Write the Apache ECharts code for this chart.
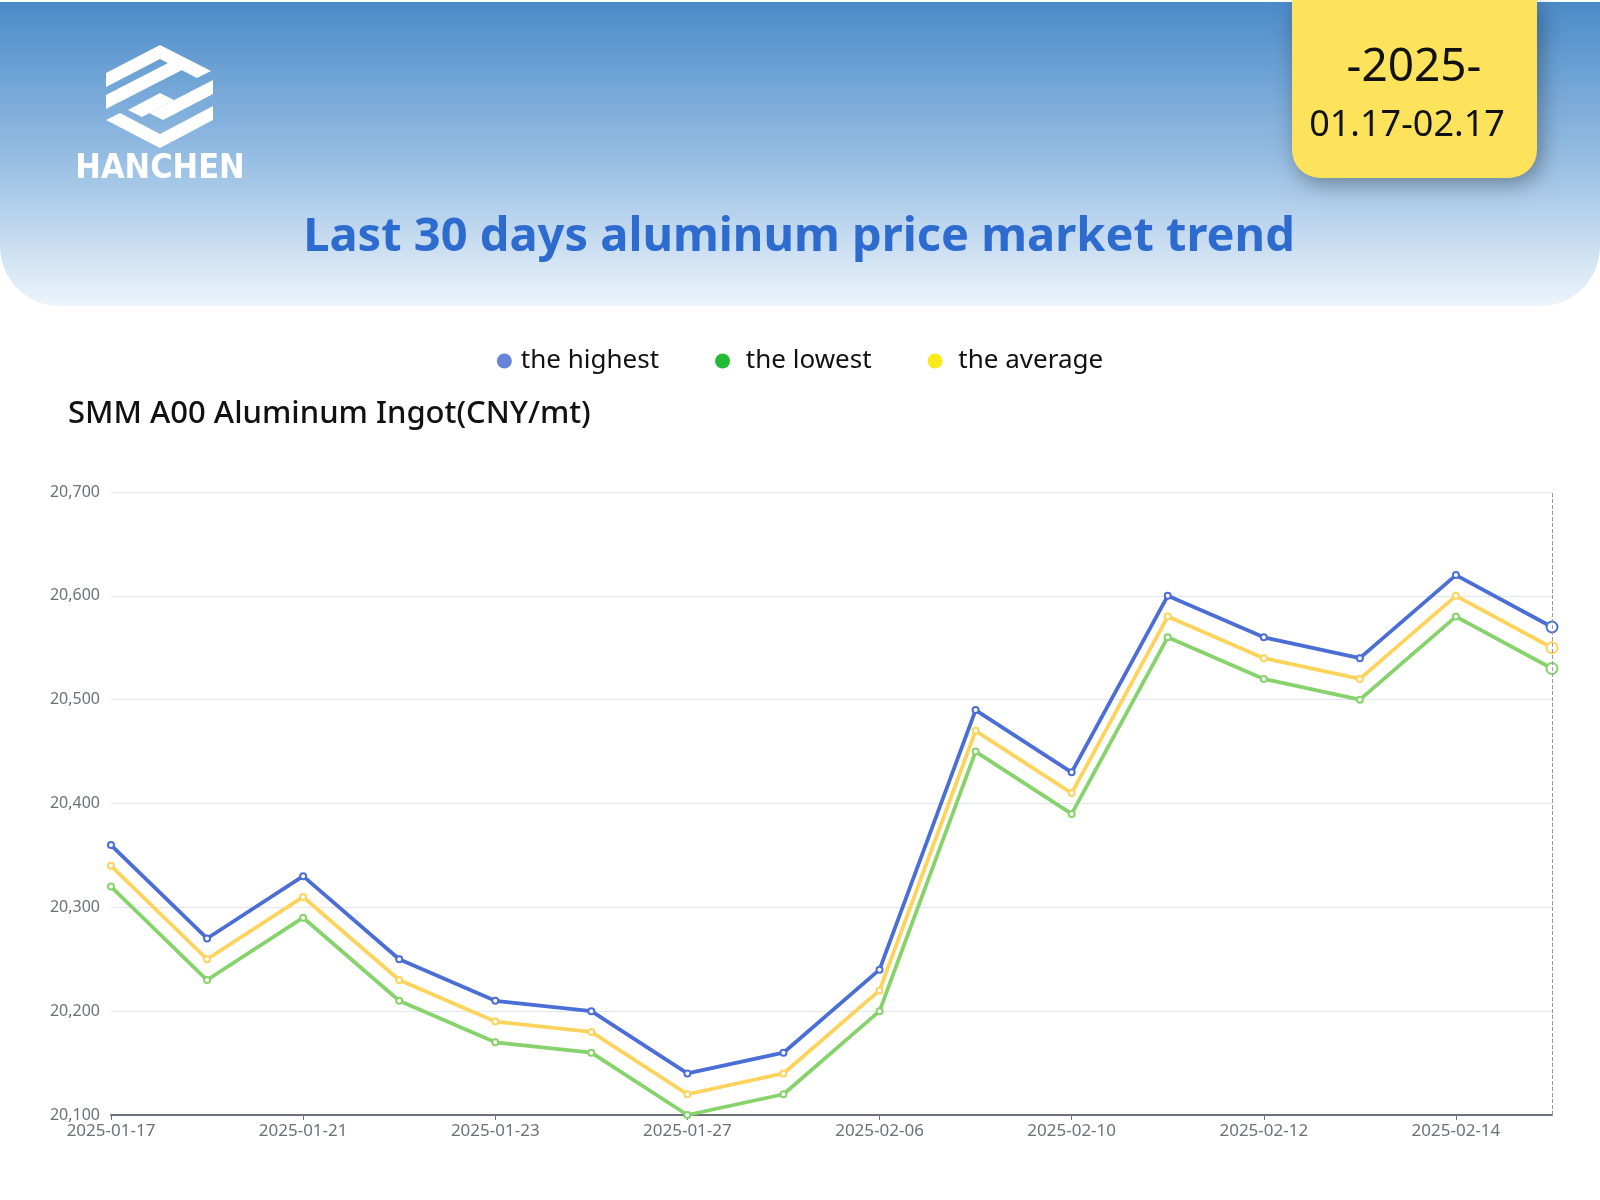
<!DOCTYPE html>
<html>
<head>
<meta charset="utf-8">
<title>Aluminum price trend</title>
<script src="https://cdn.jsdelivr.net/npm/echarts@6/dist/echarts.min.js"></script>
<style>
  html, body { margin: 0; padding: 0; background: #fff; }
  #chart { width: 1600px; height: 1200px; }
</style>
</head>
<body>
<div id="chart"></div>
<script>
// dates of the quotes (SMM, no quotes over the spring festival)
var dates = ['2025-01-17', '2025-01-20', '2025-01-21', '2025-01-22', '2025-01-23', '2025-01-24',
             '2025-01-27', '2025-02-05', '2025-02-06', '2025-02-07', '2025-02-10', '2025-02-11',
             '2025-02-12', '2025-02-13', '2025-02-14', '2025-02-17'];
var highest = [20360, 20270, 20330, 20250, 20210, 20200, 20140, 20160, 20240, 20490, 20430, 20600, 20560, 20540, 20620, 20570];
var lowest  = [20320, 20230, 20290, 20210, 20170, 20160, 20100, 20120, 20200, 20450, 20390, 20560, 20520, 20500, 20580, 20530];
var average = [20340, 20250, 20310, 20230, 20190, 20180, 20120, 20140, 20220, 20470, 20410, 20580, 20540, 20520, 20600, 20550];
var yMin = 20100, yMax = 20700, yStep = 100;

var chart = echarts.init(document.getElementById('chart'));

// last point is drawn bigger (hovered look in the original)
function withLast(arr) {
    return arr.map(function (v, i) {
        return i === arr.length - 1 ? { value: v, symbolSize: 11 } : v;
    });
}

function lineSeries(name, data, color) {
    return {
        name: name,
        type: 'line',
        data: withLast(data),
        symbol: 'emptyCircle',
        symbolSize: 6,
        lineStyle: { width: 3.8, color: color },
        itemStyle: { color: color, borderWidth: 2 }
    };
}

var white = '#ffffff';
var series = [
    lineSeries('the highest', highest, '#4b6ed6'),
    lineSeries(' the lowest', lowest, '#86d36c'),
    lineSeries(' the average', average, '#fdd35c')
];
series[0].markLine = {
    silent: true,
    symbol: ['none', 'none'],
    label: { show: false },
    lineStyle: { type: 'dashed', color: '#9a9a9a', width: 1 },
    data: [{ xAxis: dates[dates.length - 1] }]
};

chart.setOption({
    animation: false,
    title: {
        text: 'SMM A00 Aluminum Ingot(CNY/mt)',
        left: 63,
        top: 394,
        textStyle: { fontFamily: 'Noto Sans', fontSize: 31, fontWeight: 500, color: '#111' }
    },
    legend: {
        top: 343,
        left: 'center',
        icon: 'circle',
        itemWidth: 15,
        itemHeight: 15,
        itemGap: 56,
        textStyle: { fontFamily: 'Noto Sans', fontSize: 26, color: '#111', padding: [0, 0, 0, 4] },
        data: [
            { name: 'the highest', itemStyle: { color: '#6784d8', borderWidth: 0 } },
            { name: ' the lowest', itemStyle: { color: '#22bb33', borderWidth: 0 } },
            { name: ' the average', itemStyle: { color: '#fce91a', borderWidth: 0 } }
        ]
    },
    grid: { left: 111, right: 48, top: 492, bottom: 85 },
    xAxis: {
        type: 'category',
        data: dates,
        boundaryGap: false,
        axisLine: { lineStyle: { color: '#6e7079', width: 2 } },
        axisTick: { interval: 1, lineStyle: { color: '#6e7079' } },
        axisLabel: { interval: 1, margin: 8, color: '#6e7079', fontFamily: 'Noto Sans', fontSize: 17 }
    },
    yAxis: {
        type: 'value',
        min: yMin,
        max: yMax,
        interval: yStep,
        axisLabel: { margin: 11, color: '#6e7079', fontFamily: 'Noto Sans', fontSize: 16 },
        splitLine: { lineStyle: { color: '#e0e6f1' } }
    },
    series: series,
    graphic: [
        {
            type: 'rect',
            shape: { x: 0, y: 2, width: 1600, height: 304, r: [0, 0, 60, 60] },
            style: {
                fill: new echarts.graphic.LinearGradient(0, 0, 0, 1, [
                    { offset: 0, color: '#4b8bc9' },
                    { offset: 0.5, color: '#94bce2' },
                    { offset: 1, color: '#edf4fb' }
                ])
            },
            z: 0
        },
        // logo icon
        { type: 'polygon', shape: { points: [[106, 73], [160, 45], [211, 71], [197, 78], [160, 59], [106, 87]] }, style: { fill: white } },
        { type: 'polygon', shape: { points: [[106, 95], [170, 62], [184, 69], [106, 109]] }, style: { fill: white } },
        { type: 'polygon', shape: { points: [[213, 80], [213, 94], [163, 120], [149, 113]] }, style: { fill: white } },
        { type: 'polygon', shape: { points: [[128, 110], [160, 93], [174, 100], [142, 117]] }, style: { fill: white } },
        { type: 'polygon', shape: { points: [[106, 120], [160, 148], [213, 120], [213, 106], [160, 134], [120, 113]] }, style: { fill: white } },
        {
            type: 'text',
            style: {
                text: 'HANCHEN', x: 160, y: 169, align: 'center', verticalAlign: 'middle',
                font: 'bold 34px "DejaVu Sans Condensed", "DejaVu Sans"', fill: white
            }
        },
        // title
        {
            type: 'text',
            style: {
                text: 'Last 30 days aluminum price market trend', x: 799, y: 238,
                align: 'center', verticalAlign: 'middle',
                font: 'bold 47px "Noto Sans"', fill: '#2e6bcf'
            }
        },
        // date badge
        {
            type: 'rect',
            shape: { x: 1292, y: 0, width: 245, height: 178, r: [0, 0, 28, 28] },
            style: { fill: '#fde35b', shadowBlur: 22, shadowColor: 'rgba(0,0,0,0.35)', shadowOffsetY: 6, shadowOffsetX: 4 },
            z: 5
        },
        {
            type: 'text', z: 6,
            style: { text: '-2025-', x: 1414, y: 68, align: 'center', verticalAlign: 'middle', font: '46px "Noto Sans"', fill: '#111' }
        },
        {
            type: 'text', z: 6,
            style: { text: '01.17-02.17', x: 1407, y: 126, align: 'center', verticalAlign: 'middle', font: '36px "Noto Sans"', fill: '#111' }
        }
    ]
});
</script>
</body>
</html>
